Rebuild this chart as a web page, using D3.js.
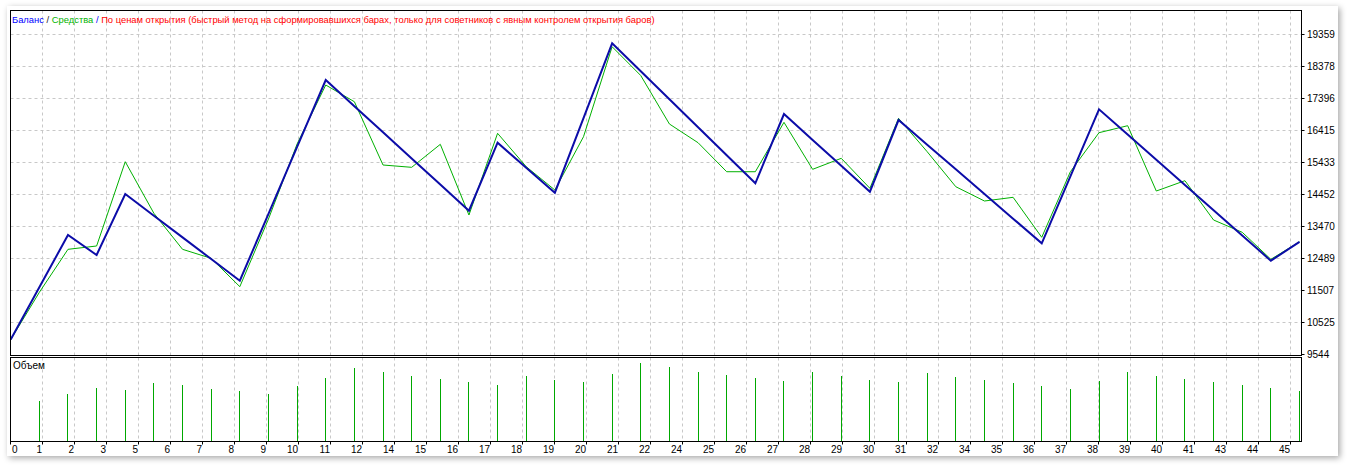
<!DOCTYPE html>
<html><head><meta charset="utf-8">
<script src="https://cdn.jsdelivr.net/npm/d3@7"></script>
<style>html,body{margin:0;padding:0;background:#fff;overflow:hidden}</style>
</head><body><svg id="c" width="1347" height="465"></svg>
<script>
// ---------- data ----------
const tradeNumbers = d3.range(0, 46);
const balance = [10000,11605,13209,12596,14467,13802,13137,12472,11807,13859,
  15911,17963,17161,16359,15557,14756,13954,16040,15273,14506,
  16797,19089,18230,17371,16512,15654,14795,16920,16126,15331,
  14537,16736,15980,15224,14468,13711,12954,15009,17064,16290,
  15516,14742,13968,13195,12421,13000];
const equity = [10000,11450,12770,12872,15457,13874,12770,12494,11624,13700,
  16000,17810,17297,15356,15285,15990,13822,16328,15304,14589,
  16224,18984,18100,16614,16040,15150,15150,16665,15224,15561,
  14641,16788,15764,14690,14252,14365,13138,15150,16347,16562,
  14558,14875,13669,13292,12464,13000];
// volume per trade 1..45
const volumeTrades = d3.range(1, 46);
const volume = [4.0,4.7,5.3,5.1,5.8,5.6,5.2,5.0,4.7,5.5,
  6.3,7.3,6.9,6.5,6.2,5.9,5.6,6.5,6.1,5.9,
  6.7,7.8,7.4,6.9,6.6,6.3,6.0,6.9,6.5,6.1,
  5.9,6.8,6.4,6.1,5.8,5.5,5.2,6.0,6.9,6.5,
  6.2,5.9,5.6,5.3,5.0];
const xTickLabels = ["0","1","2","3","5","6","7","8","9","10","11","12","14","15","16","17","18","19","20","21",
  "22","24","25","26","27","28","29","30","31","32","34","35","36","37","38","39","40","41","43","44","45"];
const yTickLabels = [9544,10525,11507,12489,13470,14452,15433,16415,17396,18378,19359];
const titleParts = [
  {t:"Баланс", c:"#0000ff"},
  {t:" / ", c:"#202020"},
  {t:"Средства", c:"#00b400"},
  {t:" / ", c:"#0000ff"},
  {t:"По ценам открытия (быстрый метод на сформировавшихся барах, только для советников с явным контролем открытия баров)", c:"#ff0000"}
];
const volumeLabel = "Объем";

// ---------- layout ----------
const L = 10.5, R = 1301.5, T = 10.5, MB = 355.5, ST = 357.5, SB = 441.5;
const gridStep = 32;
const font = "'Liberation Sans', Arial, sans-serif";

const svg = d3.select("#c");
const defs = svg.append("defs");
const f = defs.append("filter").attr("id","sh").attr("x","-5%").attr("y","-5%").attr("width","110%").attr("height","115%");
f.append("feDropShadow").attr("dx",2).attr("dy",2).attr("stdDeviation",3).attr("flood-color","#000").attr("flood-opacity",0.35);
defs.append("clipPath").attr("id","clipMain").append("rect").attr("x",L).attr("y",T).attr("width",R-L).attr("height",MB-T);

svg.append("rect").attr("x",7).attr("y",6).attr("width",1331).attr("height",450).attr("fill","#fff").attr("filter","url(#sh)");

const x = d3.scaleLinear().domain([0,45]).range([10.7,1299.5]);
const y = d3.scaleLinear().domain([9544,19359]).range([354.5,34.5]);
const yv = d3.scaleLinear().domain([0,8.4]).range([441,357]);

const crisp = v => Math.round(v - 0.5) + 0.5;

// grid
const gx = xTickLabels.map((d,i) => L + gridStep*i);
const grid = svg.append("g").attr("stroke","#c8c8c8").attr("stroke-dasharray","3,3").attr("stroke-width",1);
gx.slice(1).forEach(xx => {
  grid.append("line").attr("x1",xx).attr("x2",xx).attr("y1",T).attr("y2",MB);
  grid.append("line").attr("x1",xx).attr("x2",xx).attr("y1",ST).attr("y2",SB);
});
yTickLabels.slice(1).forEach(v => {
  const yy = crisp(y(v));
  grid.append("line").attr("x1",L).attr("x2",R).attr("y1",yy).attr("y2",yy);
});

// lines
const line = d3.line().x((d,i)=>x(tradeNumbers[i])).y(d=>y(d));
const gl = svg.append("g").attr("clip-path","url(#clipMain)");
gl.append("path").attr("d",line(equity)).attr("fill","none").attr("stroke","#00b000").attr("stroke-width",1);
gl.append("path").attr("d",line(balance)).attr("fill","none").attr("stroke","#0c0ca8").attr("stroke-width",2).attr("stroke-linejoin","miter");

// volume bars
svg.append("g").selectAll("line").data(volume).join("line")
  .attr("x1",(d,i)=>crisp(x(volumeTrades[i]))).attr("x2",(d,i)=>crisp(x(volumeTrades[i])))
  .attr("y1",yv(0)).attr("y2",d=>yv(d))
  .attr("stroke","#00a800").attr("stroke-width",1);

// frames
const fr = svg.append("g").attr("fill","none").attr("stroke","#000").attr("stroke-width",1);
fr.append("rect").attr("x",L).attr("y",T).attr("width",R-L).attr("height",MB-T);
fr.append("rect").attr("x",L).attr("y",ST).attr("width",R-L).attr("height",SB-ST);

// ticks
const tk = svg.append("g").attr("stroke","#000").attr("stroke-width",1);
gx.forEach(xx => tk.append("line").attr("x1",xx).attr("x2",xx).attr("y1",SB).attr("y2",SB+3));
yTickLabels.forEach(v => { const yy = crisp(y(v)); tk.append("line").attr("x1",R).attr("x2",R+3).attr("y1",yy).attr("y2",yy); });

// y labels
svg.append("g").selectAll("text").data(yTickLabels).join("text")
  .attr("x",1307).attr("y",d=>y(d)).attr("dy","0.35em")
  .attr("font-family",font).attr("font-size","10px").attr("fill","#000")
  .text(d=>String(d));

// x labels
svg.append("g").selectAll("text").data(xTickLabels).join("text")
  .attr("x",(d,i)=> i===0 ? 12 : gx[i]-0.5)
  .attr("text-anchor",(d,i)=> i===0 ? "start" : "end")
  .attr("y",453)
  .attr("font-family",font).attr("font-size","10px").attr("fill","#000")
  .text(d=>d);

// title: fit natural width to ~643px by choosing font size
const tt = svg.append("text").attr("x",12).attr("y",23).attr("font-family",font).attr("font-size","10px");
titleParts.forEach(p => tt.append("tspan").attr("fill",p.c).text(p.t));
const w = tt.node().getComputedTextLength();
tt.attr("font-size", (10*643/w).toFixed(2) + "px");

svg.append("text").attr("x",13).attr("y",369).attr("font-family",font).attr("font-size","10px").attr("fill","#000").text(volumeLabel);
</script>
</body></html>
